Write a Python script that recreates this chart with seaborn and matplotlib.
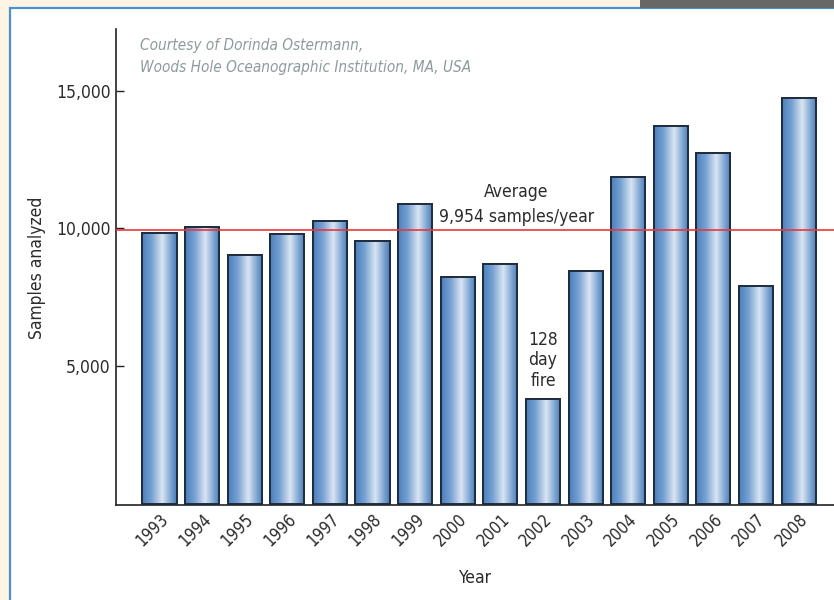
import numpy as np
import pandas as pd
import seaborn as sns
import matplotlib.pyplot as plt
from matplotlib.patches import Rectangle
from matplotlib.colors import LinearSegmentedColormap
from matplotlib.ticker import FuncFormatter

years = ['1993', '1994', '1995', '1996', '1997', '1998', '1999', '2000',
         '2001', '2002', '2003', '2004', '2005', '2006', '2007', '2008']
samples = [9820, 10050, 9030, 9790, 10270, 9540, 10900, 8220,
           8700, 3790, 8460, 11860, 13730, 12750, 7900, 14730]
average = 9954
y_ticks = [5000, 10000, 15000]
credit_lines = ['Courtesy of Dorinda Ostermann,',
                'Woods Hole Oceanographic Institution, MA, USA']

df = pd.DataFrame({'year': years, 'samples': samples})

sns.set_style('ticks')
plt.rcParams['font.family'] = ['DejaVu Sans']
plt.rcParams['font.stretch'] = 'condensed'

fig = plt.figure(figsize=(8.34, 6), dpi=100, facecolor='#fdf4e4')
# white panel with blue border + gray tab at top right (behind the axes)
fig.patches.append(Rectangle((10/834, -0.05), 1.0, 1 - 8/600 + 0.05, transform=fig.transFigure,
                             facecolor='white', edgecolor='#4a8fd0', linewidth=1.6, zorder=-2))
fig.patches.append(Rectangle((640/834, 1 - 8/600), 1.0, 8/600, transform=fig.transFigure,
                             facecolor='#676767', edgecolor='none', zorder=-2))

ax = fig.add_axes([116/834, 1 - 505/600, 1 - 116/834, 476/600])
ax.set_facecolor('none')

sns.barplot(data=df, x='year', y='samples', color='#6a98cc', width=0.8,
            edgecolor='#1f2d3d', linewidth=1.3, ax=ax, zorder=2)

# horizontal gradient inside each bar (dark blue sides, light stripe right of centre)
cmap = LinearSegmentedColormap.from_list(
    'bar', [(0.0, '#4a80bd'), (0.28, '#78a1d2'), (0.58, '#dae5f2'),
            (0.82, '#80a6d3'), (1.0, '#477bb6')])
grad = np.linspace(0, 1, 256).reshape(1, -1)
for p in list(ax.patches):
    x0, y0 = p.get_x(), p.get_y()
    w, h = p.get_width(), p.get_height()
    im = ax.imshow(grad, cmap=cmap, aspect='auto', extent=[x0, x0 + w, y0, y0 + h],
                   zorder=2.5, interpolation='bicubic')
    im.set_clip_path(p)
    edge = Rectangle((x0, y0), w, h, fill=False, edgecolor='#1f2d3d', linewidth=1.4, zorder=3)
    ax.add_patch(edge)

ax.axhline(average, color='#e8383d', linewidth=1.2, zorder=4)

ax.set_xlim(-1.02, 15.83)
ax.set_ylim(-50, 17240)
ax.set_yticks(y_ticks)
ax.yaxis.set_major_formatter(FuncFormatter(lambda v, pos: f'{int(v):,}'))
ax.tick_params(axis='y', direction='in', length=6, width=1, color='#222222',
               labelsize=12.5, labelcolor='#2b2b2b', pad=4)
ax.tick_params(axis='x', length=0, labelsize=12, labelcolor='#2b2b2b', pad=4)
for lbl in ax.get_xticklabels():
    lbl.set_rotation(45)
    lbl.set_ha('right')
    lbl.set_rotation_mode('anchor')

sns.despine(ax=ax)
ax.spines['left'].set_linewidth(1.2)
ax.spines['bottom'].set_linewidth(1.2)
ax.spines['left'].set_color('#222222')
ax.spines['bottom'].set_color('#222222')

ax.set_xlabel('Year', fontsize=12.5, color='#2b2b2b')
ax.xaxis.set_label_coords(0.5, -0.135)
ax.set_ylabel('Samples analyzed', fontsize=12.5, color='#2b2b2b')
ax.yaxis.set_label_coords(-0.098, 0.498)

ax.text(8.38, 10080, f'Average\n{average:,} samples/year', ha='center', va='bottom',
        fontsize=12.5, color='#2b2b2b', linespacing=1.5, zorder=5)
ax.text(9, 4120, '128\nday\nfire', ha='center', va='bottom', fontsize=12.5,
        color='#2b2b2b', linespacing=1.2, zorder=5)

ax.text(0.033, 0.982, '\n'.join(credit_lines), transform=ax.transAxes, ha='left', va='top',
        fontsize=11, style='italic', color='#8d9b9b', linespacing=1.6)

fig.savefig('out.png', dpi=100, facecolor=fig.get_facecolor())
